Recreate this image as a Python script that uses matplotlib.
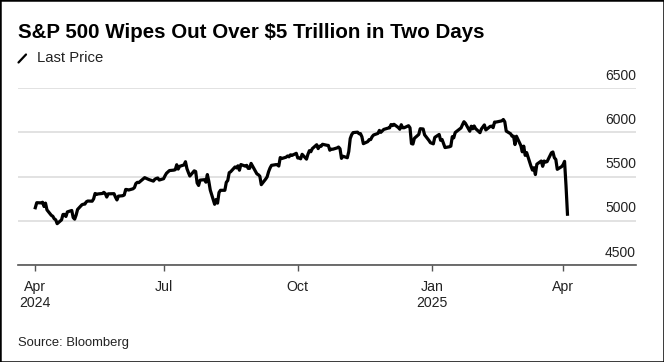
import pandas as pd
import numpy as np
import matplotlib
matplotlib.use("Agg")
import matplotlib.pyplot as plt
from matplotlib.lines import Line2D
from matplotlib.patches import Rectangle

plt.rcParams['font.family'] = ['Liberation Sans', 'DejaVu Sans']

# S&P 500 closes, one list per month (trading days)
apr24 = [5147, 5204, 5202, 5209, 5161, 5199, 5123, 5061, 5051, 5022, 5011, 4967, 5010, 5071, 5072, 5048, 5100, 5116, 5036]
may24 = [5018, 5064, 5128, 5181, 5187, 5188, 5214, 5223, 5221, 5247, 5308, 5297, 5303, 5308, 5321, 5307, 5268, 5304, 5306, 5266, 5235, 5278]
jun24 = [5283, 5291, 5354, 5352, 5347, 5361, 5375, 5421, 5434, 5431, 5473, 5487, 5473, 5465, 5448, 5469, 5478, 5483, 5460]
jul24 = [5475, 5509, 5537, 5567, 5572, 5577, 5633, 5584, 5615, 5631, 5667, 5589, 5545, 5505, 5564, 5556, 5427, 5399, 5459, 5464, 5436, 5522]
aug24 = [5446, 5347, 5186, 5240, 5199, 5319, 5344, 5344, 5434, 5455, 5543, 5554, 5608, 5597, 5621, 5571, 5635, 5617, 5626, 5592, 5592, 5648]
sep24 = [5529, 5520, 5503, 5408, 5471, 5496, 5554, 5596, 5626, 5634, 5634, 5618, 5714, 5703, 5718, 5732, 5722, 5745, 5738, 5762]
oct24 = [5709, 5709, 5700, 5751, 5696, 5751, 5792, 5780, 5815, 5859, 5815, 5843, 5841, 5864, 5853, 5851, 5797, 5809, 5808, 5823, 5833, 5813, 5705]
nov24 = [5729, 5712, 5782, 5929, 5973, 5996, 6001, 5984, 5985, 5949, 5871, 5894, 5917, 5917, 5949, 5969, 5987, 6021, 5999, 6032]
dec24 = [6047, 6050, 6087, 6075, 6090, 6053, 6034, 6085, 6051, 6051, 6074, 6050, 5872, 5867, 5931, 5975, 6040, 6037, 5971, 5907, 5882]
jan25 = [5869, 5942, 5975, 5909, 5918, 5827, 5836, 5843, 5950, 5937, 5997, 6049, 6086, 6119, 6101, 6012, 6068, 6039, 6071, 6041]
feb25 = [5995, 6038, 6061, 6083, 6026, 6066, 6069, 6052, 6115, 6115, 6129, 6144, 6118, 6013, 5983, 5955, 5956, 5861, 5955]
mar25 = [5850, 5779, 5843, 5739, 5770, 5615, 5572, 5599, 5522, 5639, 5675, 5615, 5675, 5663, 5668, 5768, 5777, 5712, 5693, 5581, 5612]
apr25 = [5633, 5671, 5396, 5074]

# market holidays in the period
holidays = ["2024-05-27", "2024-06-19", "2024-07-04", "2024-09-02", "2024-11-28",
            "2024-12-25", "2025-01-01", "2025-01-09", "2025-01-20", "2025-02-17"]

tick_dates = ["2024-04-04", "2024-07-01", "2024-10-01", "2025-01-01", "2025-04-01"]
tick_labels = ["Apr\n2024", "Jul", "Oct", "Jan\n2025", "Apr"]
y_ticks = [4500, 5000, 5500, 6000, 6500]

closes = apr24 + may24 + jun24 + jul24 + aug24 + sep24 + oct24 + nov24 + dec24 + jan25 + feb25 + mar25 + apr25
dates = pd.bdate_range("2024-04-04", "2025-04-04", freq="C", holidays=holidays)
n = min(len(dates), len(closes))
df = pd.DataFrame({"close": closes[:n]}, index=dates[:n])

W, H = 664, 362
fig = plt.figure(figsize=(W / 100, H / 100), dpi=100)
fig.patch.set_facecolor("white")

ax = fig.add_axes([17.8 / W, 1 - 265 / H, (636 - 17.8) / W, (265 - 88) / H])
ax.plot(df.index, df.close, color="black", lw=2.3, solid_joinstyle="round")

ax.set_ylim(4500, 6500)
ax.set_xlim(pd.Timestamp("2024-03-23"), pd.Timestamp("2025-05-21"))
ax.set_yticks(y_ticks)
ax.grid(axis="y", color="#dddddd", lw=1.2)
ax.set_axisbelow(True)
ax.tick_params(axis="y", length=0, labelleft=False)

ax.set_xticks(pd.to_datetime(tick_dates))
ax.set_xticklabels(tick_labels, fontsize=10.2, color="#222222")
ax.tick_params(axis="x", length=4, width=1, color="#555555", pad=7)

for s in ["top", "left", "right"]:
    ax.spines[s].set_visible(False)
ax.spines["bottom"].set_color("#555555")
ax.spines["bottom"].set_linewidth(1.2)

# y labels sit above their gridlines, right aligned
for v in y_ticks:
    ax.annotate(str(v), xy=(1, v), xycoords=ax.get_yaxis_transform(),
                xytext=(0, 6), textcoords="offset points",
                ha="right", va="baseline", fontsize=10, color="#222222")

fig.text(18 / W, 1 - 38.3 / H, "S&P 500 Wipes Out Over $5 Trillion in Two Days",
         fontsize=14.8, fontweight="bold", color="black", va="baseline")
# slash icon for the legend entry
fig.add_artist(Line2D([18.5 / W, 26 / W], [1 - 62.5 / H, 1 - 54.5 / H], color="black", lw=1.6,
                      solid_capstyle="round", transform=fig.transFigure))
fig.text(36.7 / W, 1 - 62.3 / H, "Last Price", fontsize=10.7, color="#222222", va="baseline")
fig.text(17.8 / W, 1 - 346 / H, "Source: Bloomberg", fontsize=9.4, color="#222222", va="baseline")

# thin black frame around the whole picture
fig.add_artist(Rectangle((0, 0), 1, 1, transform=fig.transFigure, fill=False,
                         edgecolor="black", lw=1.8))

fig.savefig("out.png", dpi=100)
